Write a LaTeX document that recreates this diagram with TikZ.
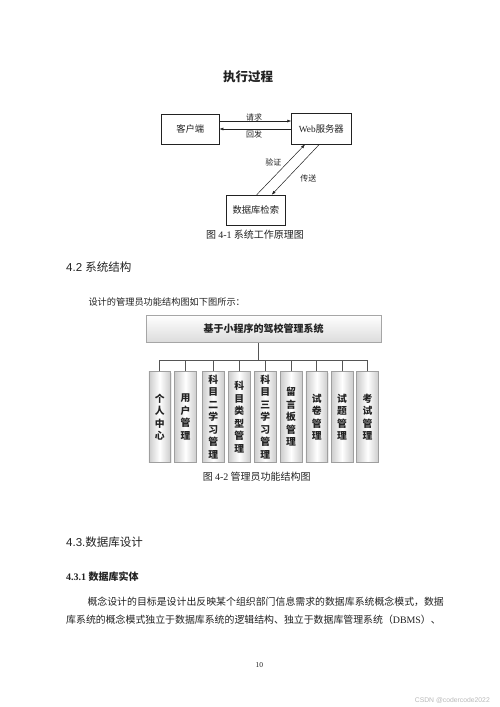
\documentclass[tikz,border=0pt]{standalone}
\usepackage{fontspec}
\setmainfont{Noto Sans CJK SC}
\newfontfamily\lser{Liberation Serif}
\newfontfamily\lsans{Liberation Sans}
\usetikzlibrary{arrows.meta,calc,shadows}
\definecolor{ink}{HTML}{222222}
\definecolor{lnc}{HTML}{555555}
\begin{document}
\begin{tikzpicture}[x=1pt,y=-1pt,
  every node/.style={inner sep=0pt, text=ink},
  fbox/.style={draw=ink, line width=0.5pt, minimum width=58pt, minimum height=30pt,
    font=\fontsize{9.3}{11}\selectfont},
  arr/.style={draw=ink, line width=0.5pt, -{Latex[length=4pt,width=3pt]}},
  lbl/.style={font=\fontsize{8}{9}\selectfont},
  figcaption/.style={font=\fontsize{10}{12}\selectfont},
  head/.style={anchor=west, font=\fontsize{11.5}{13}\selectfont},
  body/.style={anchor=west, font=\fontsize{9.9}{12}\selectfont},
  topbox/.style={draw=gray!70, line width=0.6pt, top color=white, bottom color=gray!28,
    minimum width=235pt, minimum height=27.5pt, font=\bfseries\fontsize{10}{12}\selectfont},
  child/.style={draw=gray!75, line width=0.6pt, left color=gray!40, right color=gray!40,
    middle color=white, minimum width=21.7pt, minimum height=90.6pt, align=center,
    font=\bfseries\fontsize{9.8}{12.5}\selectfont,
    drop shadow={shadow xshift=1pt, shadow yshift=-1pt, fill=gray!30}},
  conn/.style={draw=lnc, line width=0.7pt}
]
\useasboundingbox[fill=white] (0,0) rectangle (500,707);

% ---- Figure 4-1 ----
\node[font=\bfseries\fontsize{12.5}{14}\selectfont] (title) at (248,77) {执行过程};
\node[fbox] (kh) at (190.2,129) {客户端};
\node[fbox, minimum width=59.5pt, minimum height=31pt] (web) at (321.3,128.7) {{\lser Web}服务器};
\node[fbox, minimum width=58.3pt] (db) at (255.8,210) {数据库检索};

\draw[arr] ([yshift=8pt]kh.east) -- ([yshift=8pt]kh.east -| web.west);
\draw[arr] (web.west |- kh.east) -- (kh.east);
\node[lbl] (lq) at (254,117) {请求};
\node[lbl] (lh) at (254,134) {回发};

\draw[arr] ([xshift=0.9pt]db.north) -- ([xshift=-16.3pt]web.south);
\draw[arr] ([xshift=-2pt]web.south) -- ([xshift=15.9pt]db.north);
\node[lbl] (ly) at (273.3,162.7) {验证};
\node[lbl] (lc) at (308.3,178.3) {传送};

\node[figcaption] (cap1) at (255,234.3) {图 {\lser 4-1} 系统工作原理图};

% ---- Section 4.2 ----
\node[head] (h42) at (66,266.7) {{\lsans 4.2 }系统结构};
\node[body, font=\fontsize{9.2}{11}\selectfont] (intro) at (88.3,301.7) {设计的管理员功能结构图如下图所示：};

\node[topbox] (sys) at (263.5,328.8) {基于小程序的驾校管理系统};

\node[child] (c1) at (159.7,417) {个\\人\\中\\心};
\node[child] (c2) at (185.5,417) {用\\户\\管\\理};
\node[child] (c3) at (213.2,417) {科\\目\\二\\学\\习\\管\\理};
\node[child] (c4) at (239.2,417) {科\\目\\类\\型\\管\\理};
\node[child] (c5) at (265.2,417) {科\\目\\三\\学\\习\\管\\理};
\node[child] (c6) at (291.0,417) {留\\言\\板\\管\\理};
\node[child] (c7) at (316.8,417) {试\\卷\\管\\理};
\node[child] (c8) at (342.0,417) {试\\题\\管\\理};
\node[child] (c9) at (367.6,417) {考\\试\\管\\理};

\coordinate (bus) at (258.3,360);
\draw[conn] (sys.south -| bus) -- (bus);
\draw[conn] (c1.north |- bus) -- (c9.north |- bus);
\foreach \c in {c1,c2,c3,c4,c5,c6,c7,c8,c9}
  \draw[conn] (\c.north) -- (\c.north |- bus);

\node[figcaption] (cap2) at (256.7,476.7) {图 {\lser 4-2} 管理员功能结构图};

% ---- Section 4.3 ----
\node[head] (h43) at (66,541.7) {{\lsans 4.3.}数据库设计};
\node[anchor=west, font=\bfseries\fontsize{10}{12}\selectfont] (h431) at (66,576.7) {{\lser\bfseries 4.3.1 }数据库实体};
\node[body] (p1) at (87.3,601.7) {概念设计的目标是设计出反映某个组织部门信息需求的数据库系统概念模式，数据};
\node[body] (p2) at (66,620) {库系统的概念模式独立于数据库系统的逻辑结构、独立于数据库管理系统（{\lser DBMS}）、};

\node[font=\fontsize{7.5}{9}\selectfont] (pg) at (259.3,665) {{\lser 10}};
\node[anchor=east, text=gray!55, font=\lsans\fontsize{6.8}{8}\selectfont] (wm) at (490,700) {CSDN @codercode2022};
\end{tikzpicture}
\end{document}
